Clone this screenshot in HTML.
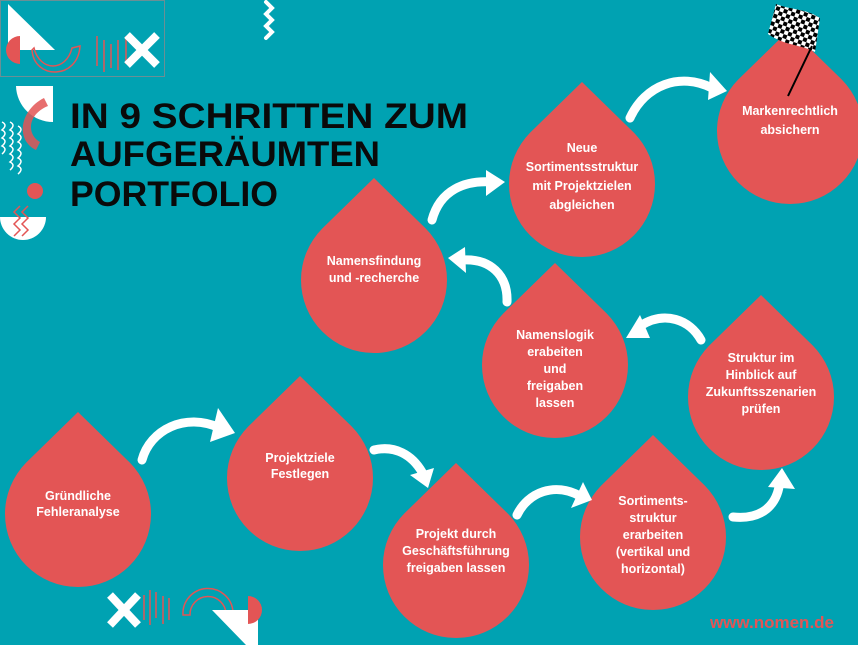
<!DOCTYPE html>
<html><head><meta charset="utf-8"><style>
html,body{margin:0;padding:0;background:#00a2b2;}
svg{display:block;}
.t{font-family:"Liberation Sans",sans-serif;font-weight:bold;fill:#fff;font-size:12.5px;text-anchor:middle;}
.h{font-family:"Liberation Sans",sans-serif;font-weight:bold;fill:#0a0a0a;font-size:35px;}
.ar{fill:none;stroke:#fff;stroke-width:9;stroke-linecap:round;}
</style></head><body>
<svg width="858" height="645" viewBox="0 0 858 645" xmlns="http://www.w3.org/2000/svg">
<defs>
<pattern id="chk" width="8" height="8" patternUnits="userSpaceOnUse" patternTransform="rotate(20)">
<rect width="8" height="8" fill="#fff"/><rect width="4" height="4" fill="#000"/><rect x="4" y="4" width="4" height="4" fill="#000"/>
</pattern>
<g id="drop"><path d="M0,-102 L51.6,-51.6 A73,73 0 1 1 -51.6,-51.6 Z" fill="#e35555"/></g>
</defs>
<rect width="858" height="645" fill="#00a2b2"/>

<!-- top-left decoration -->
<rect x="0.5" y="0.5" width="164" height="76" fill="none" stroke="#6a8f95" stroke-width="1"/>
<polygon points="8,4 8,50 55,50" fill="#fff"/>
<path d="M20,36 A14,14 0 0 0 20,64 Z" fill="#e35555"/>
<path d="M34,48 C40,72 66,72 72,48 L80,46 C78,80 34,80 32,50 Z" fill="none" stroke="#e35555" stroke-width="1.5"/>
<g stroke="#e35555" stroke-width="1.5"><line x1="97" y1="36" x2="97" y2="66"/><line x1="104" y1="40" x2="104" y2="72"/><line x1="111" y1="44" x2="111" y2="68"/><line x1="118" y1="40" x2="118" y2="70"/><line x1="126" y1="36" x2="126" y2="64"/></g>
<g stroke="#fff" stroke-width="8"><line x1="127" y1="35" x2="157" y2="65"/><line x1="157" y1="35" x2="127" y2="65"/></g>
<path d="M266,2 l6,6 -6,6 6,6 -6,6 6,6 -6,6" fill="none" stroke="#fff" stroke-width="4" stroke-linecap="round"/>

<!-- left side decorations -->
<path d="M16,86 L53,86 L53,122 A37,37 0 0 1 16,86 Z" fill="#fff"/>
<path d="M44,98 C20,110 15,140 36,150 L40,142 C26,134 28,114 48,106 Z" fill="#e35555" opacity="0.85"/>
<g fill="none" stroke="#fff" stroke-width="1.5">
<path d="M2,122 q6,3 0,8 q6,3 0,8 q6,3 0,8 q6,3 0,8"/>
<path d="M10,122 q6,3 0,8 q6,3 0,8 q6,3 0,8 q6,3 0,8 q6,3 0,8 q6,3 0,8"/>
<path d="M18,126 q6,3 0,8 q6,3 0,8 q6,3 0,8 q6,3 0,8 q6,3 0,8 q6,3 0,8"/>
</g>
<circle cx="35" cy="191" r="8" fill="#e35555"/>
<path d="M0,217 L46,217 A23,23 0 0 1 0,217 Z" fill="#fff"/>
<g fill="none" stroke="#e35555" stroke-width="1.5"><path d="M20,206 l-6,6 6,6 -6,6 6,6 -6,6"/><path d="M28,206 l-6,6 6,6 -6,6 6,6 -6,6"/></g>

<!-- title -->
<text class="h" x="70" y="128" textLength="398" lengthAdjust="spacingAndGlyphs">IN 9 SCHRITTEN ZUM</text>
<text class="h" x="70" y="166" textLength="310" lengthAdjust="spacingAndGlyphs">AUFGERÄUMTEN</text>
<text class="h" x="70" y="206" textLength="208" lengthAdjust="spacingAndGlyphs">PORTFOLIO</text>

<!-- drops -->
<use href="#drop" x="78" y="514"/>
<use href="#drop" x="300" y="478"/>
<use href="#drop" x="456" y="565"/>
<use href="#drop" x="653" y="537"/>
<use href="#drop" x="761" y="397"/>
<use href="#drop" x="555" y="365"/>
<use href="#drop" x="374" y="280"/>
<use href="#drop" x="582" y="184"/>
<use href="#drop" x="790" y="131"/>

<!-- flag -->
<path d="M776,4 C790,10 805,8 820,18 L815,52 C800,44 785,46 768,34 Z" fill="url(#chk)"/>
<line x1="788" y1="96" x2="812" y2="46" stroke="#000" stroke-width="2"/>

<!-- texts -->
<g class="t">
<text x="78" y="500">Gründliche</text><text x="78" y="516">Fehleranalyse</text>
<text x="300" y="462">Projektziele</text><text x="300" y="478">Festlegen</text>
<text x="456" y="538">Projekt durch</text><text x="456" y="555">Geschäftsführung</text><text x="456" y="572">freigaben lassen</text>
<text x="653" y="505">Sortiments-</text><text x="653" y="522">struktur</text><text x="653" y="539">erarbeiten</text><text x="653" y="556">(vertikal und</text><text x="653" y="573">horizontal)</text>
<text x="761" y="362">Struktur im</text><text x="761" y="379">Hinblick auf</text><text x="761" y="396">Zukunftsszenarien</text><text x="761" y="413">prüfen</text>
<text x="555" y="339">Namenslogik</text><text x="555" y="356">erabeiten</text><text x="555" y="373">und</text><text x="555" y="390">freigaben</text><text x="555" y="407">lassen</text>
<text x="374" y="265">Namensfindung</text><text x="374" y="282">und -recherche</text>
<text x="582" y="152">Neue</text><text x="582" y="171">Sortimentsstruktur</text><text x="582" y="190">mit Projektzielen</text><text x="582" y="209">abgleichen</text>
<text x="790" y="115">Markenrechtlich</text><text x="790" y="134">absichern</text>
</g>

<!-- arrows -->
<g class="ar">
<path d="M142,460 C150,430 185,412 220,428"/>
<path d="M374,450 C395,445 412,455 422,472"/>
<path d="M517,515 C528,492 555,482 580,496"/>
<path d="M733,517 C762,520 778,505 780,480"/>
<path d="M701,340 C690,320 665,310 640,326"/>
<path d="M507,302 C508,275 490,258 462,260"/>
<path d="M432,220 C440,190 465,180 492,182"/>
<path d="M630,118 C645,85 680,72 712,88"/>
</g>
<g fill="#fff">
<polygon points="235,433 210,442 218,408"/>
<polygon points="428,488 410,475 434,468"/>
<polygon points="592,500 571,508 583,482"/>
<polygon points="782,468 768,487 795,489"/>
<polygon points="626,338 640,315 650,338"/>
<polygon points="448,258 465,247 466,273"/>
<polygon points="505,182 486,170 486,196"/>
<polygon points="727,91 708,100 710,72"/>
</g>

<!-- bottom decorations -->
<g stroke="#fff" stroke-width="8"><line x1="110" y1="595" x2="138" y2="625"/><line x1="138" y1="595" x2="110" y2="625"/></g>
<g stroke="#e35555" stroke-width="1.5"><line x1="144" y1="595" x2="144" y2="620"/><line x1="150" y1="590" x2="150" y2="625"/><line x1="156" y1="592" x2="156" y2="618"/><line x1="163" y1="596" x2="163" y2="624"/><line x1="169" y1="598" x2="169" y2="620"/></g>
<path d="M183,615 A25,25 0 0 1 233,612 L226,614 A18,18 0 0 0 190,615 Z" fill="none" stroke="#e35555" stroke-width="1.5"/>
<polygon points="212,610 258,610 258,645 246,645" fill="#fff"/>
<path d="M248,596 A14,14 0 0 1 248,624 Z" fill="#e35555"/>

<text x="834" y="628" text-anchor="end" style="font-family:'Liberation Sans',sans-serif;font-weight:bold;font-size:17px;fill:#e35555;">www.nomen.de</text>
</svg>
</body></html>
